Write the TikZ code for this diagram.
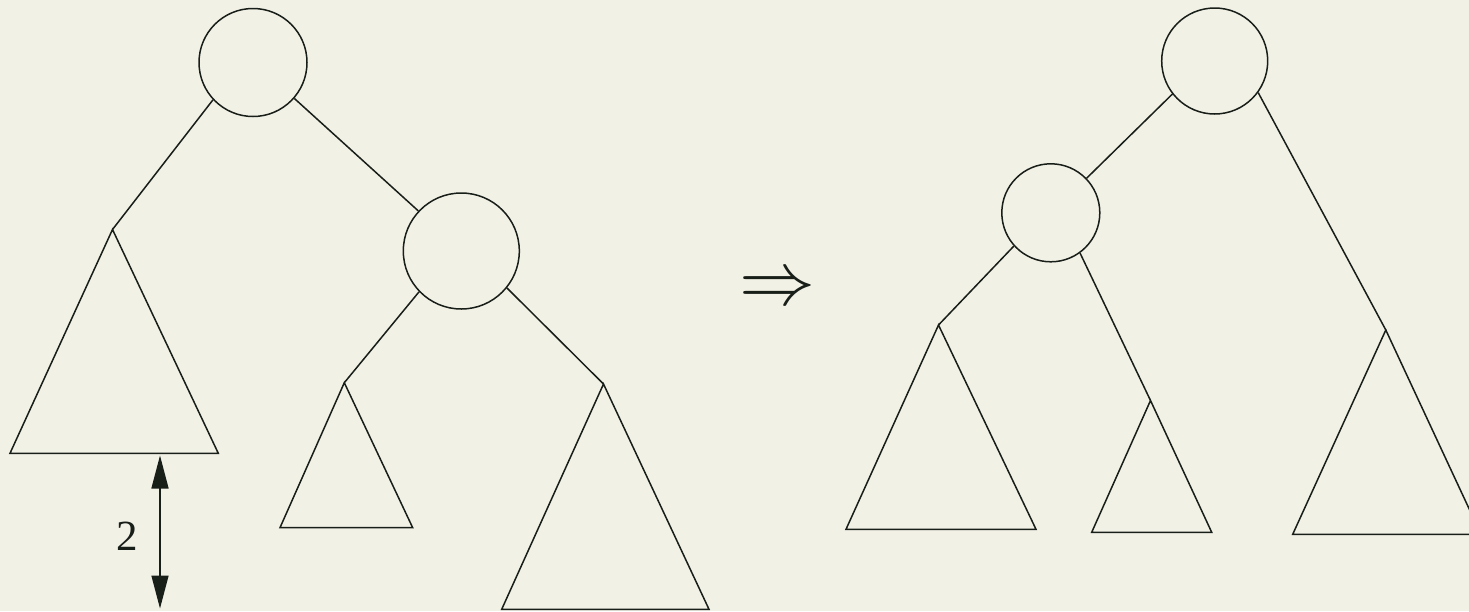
\documentclass[tikz,border=0pt]{standalone}
\usepackage{fontspec}
\usepackage{graphicx}
\usetikzlibrary{arrows.meta}
\newfontfamily\timesfont{Liberation Serif}
\definecolor{bgc}{RGB}{242,241,230}
\definecolor{ink}{RGB}{24,30,24}
\tikzset{
  treenode/.style={circle,draw=ink,line width=1.5pt,inner sep=0pt},
  edge/.style={draw=ink,line width=1.5pt},
  subtree/.style={draw=ink,line width=1.5pt,line join=miter},
}
\begin{document}
\begin{tikzpicture}[x=1pt,y=-1pt]
\fill[bgc] (0,0) rectangle (1469,611);
\useasboundingbox (0,0) rectangle (1469,611);
\begin{scope}
\clip (0,0) rectangle (1469,611);
% ---------- left tree ----------
\node[treenode,minimum size=108pt] (lr) at (253,62.5) {};
\node[treenode,minimum size=116pt] (lc) at (461.3,251) {};
\coordinate (ta) at (112.5,229.5);
\coordinate (tal) at (10,453.3);
\coordinate (tar) at (218.3,453.3);
\coordinate (tb) at (344.3,382.7);
\coordinate (tbl) at (280,527.7);
\coordinate (tbr) at (412.7,527.7);
\coordinate (tc) at (603.5,384);
\coordinate (tcl) at (501.7,609.3);
\coordinate (tcr) at (709,609.3);
\path[subtree] (ta) -- (tal) -- (tar) -- cycle;
\path[subtree] (tb) -- (tbl) -- (tbr) -- cycle;
\path[subtree] (tc) -- (tcl) -- (tcr) -- cycle;
\path[edge] (lr.223) -- (ta);
\path[edge] (lr.319) -- (lc.137);
\path[edge] (lc.224) -- (tb);
\path[edge] (lc.321) -- (tc);
% height marker
\coordinate (ha) at (160,455.5);
\coordinate (hb) at (160,608.5);
\draw[ink,line width=1.5pt,{Triangle[length=33pt,width=17pt]}-{Triangle[length=33pt,width=17pt]}] (ha) -- (hb);
\node[text=ink,inner sep=0pt,font=\timesfont\fontsize{43}{43}\selectfont] (two) at (127,536) {2};
% ---------- transformation arrow ----------
\node[text=ink,inner sep=0pt] (impl) at (777,290.5) {\resizebox{76pt}{!}{$\Rightarrow$}};
% ---------- right tree ----------
\node[treenode,minimum size=106pt] (rr) at (1214.7,61) {};
\node[treenode,minimum size=98pt] (rc) at (1050.8,212.8) {};
\coordinate (ua) at (938.5,325);
\coordinate (ual) at (846,529.3);
\coordinate (uar) at (1036,529.3);
\coordinate (ub) at (1150.5,400.5);
\coordinate (ubl) at (1091.7,532.3);
\coordinate (ubr) at (1211.7,532.3);
\coordinate (uc) at (1385.8,330);
\coordinate (ucl) at (1292.7,534.3);
\coordinate (ucr) at (1481,534.3);
\path[subtree] (ua) -- (ual) -- (uar) -- cycle;
\path[subtree] (ub) -- (ubl) -- (ubr) -- cycle;
\path[subtree] (uc) -- (ucl) -- (ucr) -- cycle;
\path[edge] (rr.218) -- (rc.44);
\path[edge] (rr.324) -- (uc);
\path[edge] (rc.222) -- (ua);
\path[edge] (rc.306) -- (ub);
\end{scope}
\end{tikzpicture}
\end{document}
